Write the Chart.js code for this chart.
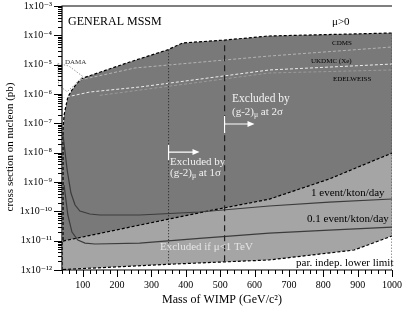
<!DOCTYPE html>
<html>
<head>
<meta charset="utf-8">
<script src="https://cdn.jsdelivr.net/npm/chart.js@4.4.1/dist/chart.umd.min.js"></script>
<style>
  html, body { margin: 0; padding: 0; background: #fff; }
</style>
</head>
<body>
<canvas id="chart" width="409" height="313"></canvas>
<script>
// WIMP mass (GeV/c^2) vs cross section on nucleon (pb)
const topMass  = [43, 43, 46, 52, 57, 69, 84, 101, 237, 347, 391, 513, 643, 1000];
const topSigma = [1e-12, 5.9e-8, 1.9e-7, 4.2e-7, 7.9e-7, 1.37e-6, 2.37e-6, 3.5e-6, 1.23e-5, 3.2e-5, 5.5e-5, 6.9e-5, 9.5e-5, 1.2e-4];

const midMass  = [43, 266, 478, 643, 817, 1000];
const midSigma = [9.7e-12, 3.4e-11, 1.1e-10, 2.6e-10, 1.26e-9, 9.7e-9];

const lowMass  = [43, 368, 643, 890, 1000];
const lowSigma = [1.04e-12, 1.6e-12, 2.2e-12, 4.8e-12, 1.44e-11];

const rightMass  = [1000, 1000];
const rightSigma = [1e-12, 1.2e-4];

const oneEvtMass  = [43, 55, 66, 78, 92, 121, 150, 266, 440, 643, 817, 1000];
const oneEvtSigma = [4.0e-8, 2.56e-9, 4.2e-10, 1.64e-10, 1.02e-10, 8.1e-11, 7.5e-11, 7.5e-11, 9.5e-11, 1.52e-10, 2.07e-10, 2.63e-10];

const tenthEvtMass  = [46, 57, 69, 86, 107, 136, 266, 440, 643, 817, 1000];
const tenthEvtSigma = [7.9e-10, 7.5e-11, 1.97e-11, 1.05e-11, 8.3e-12, 7.7e-12, 8.3e-12, 1.19e-11, 1.8e-11, 2.3e-11, 2.9e-11];

const g2OneMass  = [350, 350];
const g2OneSigma = [1.57e-12, 3.3e-5];
const g2TwoMass  = [513, 513];
const g2TwoSigma = [2.0e-12, 6.9e-5];

const cdmsMass  = [92, 252, 643, 1000];
const cdmsSigma = [3.0e-6, 7.7e-6, 1.97e-5, 4.0e-5];
const ukdmcMass  = [40, 121, 266, 643, 1000];
const ukdmcSigma = [7.3e-7, 1.17e-6, 1.73e-6, 6.6e-6, 1.05e-5];
const edelMass  = [150, 643, 1000];
const edelSigma = [9.0e-7, 5.2e-6, 6.6e-6];

const damaMass  = [28, 60, 80, 100, 80, 55, 30, 28];
const damaSigma = [1.1e-5, 9e-6, 6e-6, 4e-6, 2.2e-6, 1.2e-6, 2e-6, 1.1e-5];

const xTicks = [];
for (let m = 40; m <= 1000; m += 20) xTicks.push(m);
const yTicks = [];
for (let e = -12; e <= -3; e++) {
  for (let k = 1; k <= 9; k++) {
    if (e === -3 && k > 1) break;
    yTicks.push(Number((k + 'e' + e)));
  }
}

const pts = (xs, ys) => xs.map((x, i) => ({ x: x, y: ys[i] }));
const SERIF = '"Liberation Serif", "DejaVu Serif", serif';

function line(xs, ys, color, width, dash, order, extra) {
  return Object.assign({
    data: pts(xs, ys),
    borderColor: color,
    borderWidth: width,
    borderDash: dash,
    pointRadius: 0,
    fill: false,
    tension: 0,
    order: order
  }, extra || {});
}

const datasets = [
  line(topMass, topSigma, '#000', 1.2, [3, 2], 30, { fill: 'start', backgroundColor: '#797979' }),
  line(midMass, midSigma, '#000', 1.2, [3, 2], 20, { fill: 'start', backgroundColor: '#a5a5a5' }),
  line(lowMass, lowSigma, '#000', 1.2, [3, 2], 15, { fill: 'start', backgroundColor: '#ffffff' }),
  line(rightMass, rightSigma, '#555', 1.2, [1.5, 1.5], 5),
  line(oneEvtMass, oneEvtSigma, '#3c3c3c', 1.2, [], 4),
  line(tenthEvtMass, tenthEvtSigma, '#3c3c3c', 1.2, [], 4),
  line(g2OneMass, g2OneSigma, '#222', 1, [1, 2], 3),
  line(g2TwoMass, g2TwoSigma, '#222', 1.2, [6, 4], 3),
  line(cdmsMass, cdmsSigma, '#b4b4b4', 1, [3, 2], 6),
  line(ukdmcMass, ukdmcSigma, '#ececec', 1, [3, 2], 6),
  line(edelMass, edelSigma, '#9a9a9a', 1, [3, 2], 6),
  line(damaMass, damaSigma, '#9a9a9a', 1, [1.5, 1.5], 6, { clip: false })
];

function sup(s) {
  const m = { '-': '\u207B', '0': '\u2070', '1': '\u00B9', '2': '\u00B2', '3': '\u00B3', '4': '\u2074',
              '5': '\u2075', '6': '\u2076', '7': '\u2077', '8': '\u2078', '9': '\u2079' };
  return s.split('').map(c => m[c]).join('');
}

// text with a subscript mu, e.g. "(g-2)" + "μ" + " at 2σ"
function gm2Text(ctx, x, y, tail, size) {
  ctx.font = size + 'px ' + SERIF;
  ctx.fillText('(g-2)', x, y);
  let w = ctx.measureText('(g-2)').width;
  ctx.font = (size * 0.7) + 'px ' + SERIF;
  ctx.fillText('\u03BC', x + w, y + 3);
  w += ctx.measureText('\u03BC').width;
  ctx.font = size + 'px ' + SERIF;
  ctx.fillText(tail, x + w, y);
}

const decorations = {
  id: 'decorations',
  afterDatasetsDraw(chart) {
    const { ctx, chartArea: a, scales } = chart;
    const sx = v => scales.x.getPixelForValue(v);
    const sy = v => scales.y.getPixelForValue(v);
    ctx.save();

    // frame
    ctx.strokeStyle = '#000';
    ctx.lineWidth = 1.2;
    ctx.beginPath();
    ctx.moveTo(a.right, a.top); ctx.lineTo(a.left, a.top);
    ctx.lineTo(a.left, a.bottom); ctx.lineTo(a.right, a.bottom);
    ctx.stroke();

    // ticks
    ctx.lineWidth = 1;
    ctx.beginPath();
    xTicks.forEach(v => {
      const px = Math.round(sx(v)) + 0.5;
      ctx.moveTo(px, a.bottom);
      ctx.lineTo(px, a.bottom + (v % 100 === 0 ? 7 : 4));
    });
    yTicks.forEach(v => {
      const py = Math.round(sy(v)) + 0.5;
      const major = Math.abs(Math.log10(v) - Math.round(Math.log10(v))) < 1e-9;
      ctx.moveTo(a.left, py);
      ctx.lineTo(a.left - (major ? 8 : 4), py);
    });
    ctx.stroke();

    // (g-2) arrows
    ctx.strokeStyle = '#fff';
    ctx.fillStyle = '#fff';
    ctx.lineWidth = 1.2;
    [[513, 600, 9.5e-8, 1.78e-7, 4.7e-8], [350, 440, 1.05e-8, 1.82e-8, 5.6e-9]].forEach(r => {
      const x0 = sx(r[0]), x1 = sx(r[1]), yy = sy(r[2]);
      ctx.beginPath();
      ctx.moveTo(x0, sy(r[3])); ctx.lineTo(x0, sy(r[4]));
      ctx.moveTo(x0, yy); ctx.lineTo(x1 - 4, yy);
      ctx.stroke();
      ctx.beginPath();
      ctx.moveTo(x1, yy); ctx.lineTo(x1 - 7, yy - 3); ctx.lineTo(x1 - 7, yy + 3);
      ctx.closePath(); ctx.fill();
    });

    ctx.textBaseline = 'middle';
    ctx.textAlign = 'left';
    ctx.fillStyle = '#f2f2f2';
    ctx.font = '11.5px ' + SERIF;
    ctx.fillText('Excluded by', 232, 99);
    gm2Text(ctx, 232, 112, ' at 2\u03C3', 11);
    ctx.font = '11px ' + SERIF;
    ctx.fillText('Excluded by', 170, 162);
    gm2Text(ctx, 170, 173, ' at 1\u03C3', 11);
    ctx.font = '11px ' + SERIF;
    ctx.fillStyle = '#e4e4e4';
    ctx.fillText('Excluded if \u03BC<1 TeV', 160, 247);

    ctx.fillStyle = '#000';
    ctx.fillText('1 event/kton/day', 311, 193);
    ctx.fillText('0.1 event/kton/day', 307, 219);
    ctx.fillText('par. indep. lower limit', 296, 263);
    ctx.font = '12px ' + SERIF;
    ctx.fillText('GENERAL MSSM', 68, 22);
    ctx.font = '11px ' + SERIF;
    ctx.fillText('\u03BC>0', 332, 22);

    ctx.font = '7px ' + SERIF;
    ctx.fillText('CDMS', 332, 43);
    ctx.fillText('UKDMC (Xe)', 311, 61);
    ctx.fillText('EDELWEISS', 333, 79);
    ctx.fillStyle = '#333';
    ctx.fillText('DAMA', 65, 62);

    // axis titles
    ctx.fillStyle = '#000';
    ctx.font = '12px ' + SERIF;
    ctx.textAlign = 'center';
    ctx.fillText('Mass of WIMP (GeV/c\u00B2)', 222, 300);
    ctx.translate(10, 147);
    ctx.rotate(-Math.PI / 2);
    ctx.font = '11px ' + SERIF;
    ctx.fillText('cross section on nucleon (pb)', 0, 0);
    ctx.restore();
  }
};

new Chart(document.getElementById('chart'), {
  type: 'line',
  data: { datasets: datasets },
  options: {
    responsive: false,
    animation: false,
    layout: { padding: { top: 6, right: 17, left: 0, bottom: 0 } },
    plugins: { legend: { display: false }, tooltip: { enabled: false } },
    scales: {
      x: {
        type: 'linear',
        min: 40,
        max: 1000,
        grid: { display: false, drawTicks: false },
        border: { display: false },
        afterBuildTicks: s => { s.ticks = xTicks.map(v => ({ value: v })); },
        afterFit: s => { s.height = 43; s.paddingLeft = 0; s.paddingRight = 0; },
        ticks: {
          autoSkip: false,
          maxRotation: 0,
          padding: 9,
          color: '#000',
          font: { family: SERIF, size: 10 },
          callback: v => (v % 100 === 0 ? String(v) : '')
        }
      },
      y: {
        type: 'logarithmic',
        min: 1e-12,
        max: 1e-3,
        grid: { display: false, drawTicks: false },
        border: { display: false },
        afterBuildTicks: s => { s.ticks = yTicks.map(v => ({ value: v })); },
        afterFit: s => { s.width = 62; s.paddingTop = 0; s.paddingBottom = 0; },
        ticks: {
          autoSkip: false,
          padding: 10,
          color: '#000',
          font: { family: SERIF, size: 10 },
          callback: v => {
            const e = Math.log10(v);
            if (Math.abs(e - Math.round(e)) > 1e-9) return '';
            return '1x10' + sup(String(Math.round(e)));
          }
        }
      }
    }
  },
  plugins: [decorations]
});
</script>
</body>
</html>
